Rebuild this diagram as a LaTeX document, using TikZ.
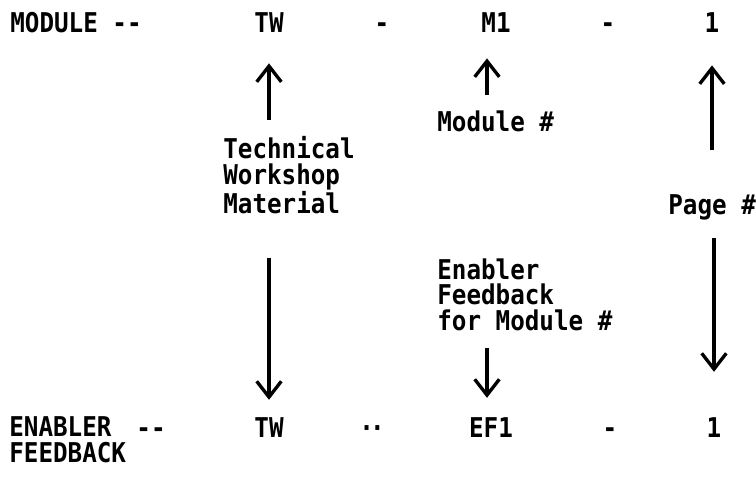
\documentclass[tikz,border=0pt]{standalone}
\usepackage{fontspec}
\setmonofont[FakeStretch=0.89]{DejaVu Sans Mono}
\usetikzlibrary{arrows.meta}

\begin{document}
\begin{tikzpicture}[x=0.02cm, y=-0.02cm,
  main/.style = {font=\ttfamily\bfseries\fontsize{15.5}{14.75}\selectfont, inner sep=0pt, anchor=base},
  txt/.style = {main, align=left, anchor=north west},
  arr/.style = {-{Straight Barb[length=9pt,width=14pt]}, line width=1.9pt}]
  \useasboundingbox (0,0) rectangle (756,477);

  % code of a module page
  \node[main, anchor=base west] (mod) at (10,32) {MODULE --};
  \node[main] (tw1) at (269,32) {TW};
  \node[main] (d1) at (382,32) {-};
  \node[main] (m1) at (496,32) {M1};
  \node[main] (d2) at (608,32) {-};
  \node[main] (pg1) at (712,32) {1};

  % code of an enabler feedback page
  \node[txt] (enab) at (9,416) {ENABLER\\FEEDBACK};
  \node[main] (dd) at (151,437) {--};
  \node[main] (tw2) at (269,437) {TW};
  \node[main] (dots) at (372,437) {·\kern-2.3pt·};
  \node[main] (ef1) at (491,437) {EF1};
  \node[main] (d3) at (610,437) {-};
  \node[main] (pg2) at (714,437) {1};

  % what each part stands for
  \node[txt] (tech) at (223,136) {Technical\\Workshop\\Material};
  \node[txt] (modno) at (437,110) {Module \#};
  \node[txt] (page) at (668,194) {Page \#};
  \node[txt] (enfb) at (437,258) {Enabler\\Feedback\\for Module \#};

  \draw[arr, shorten <=0.32cm, shorten >=0.62cm] (tw1 |- tech.north) -- (tw1.south);
  \draw[arr, shorten <=0.86cm, shorten >=0.34cm] (tw2 |- tech.south) -- (tw2.north);
  \draw[arr, shorten <=0.3cm, shorten >=0.52cm] ([xshift=-0.18cm]m1 |- modno.north) -- ([xshift=-0.18cm]m1.south);
  \draw[arr, shorten <=0.32cm, shorten >=0.38cm] ([xshift=-0.08cm]ef1 |- enfb.south) -- ([xshift=-0.08cm]ef1.north);
  \draw[arr, shorten <=0.88cm, shorten >=0.66cm] (pg1 |- page.north) -- (pg1.south);
  \draw[arr, shorten <=0.36cm, shorten >=0.9cm] (pg2 |- page.south) -- (pg2.north);
\end{tikzpicture}
\end{document}
